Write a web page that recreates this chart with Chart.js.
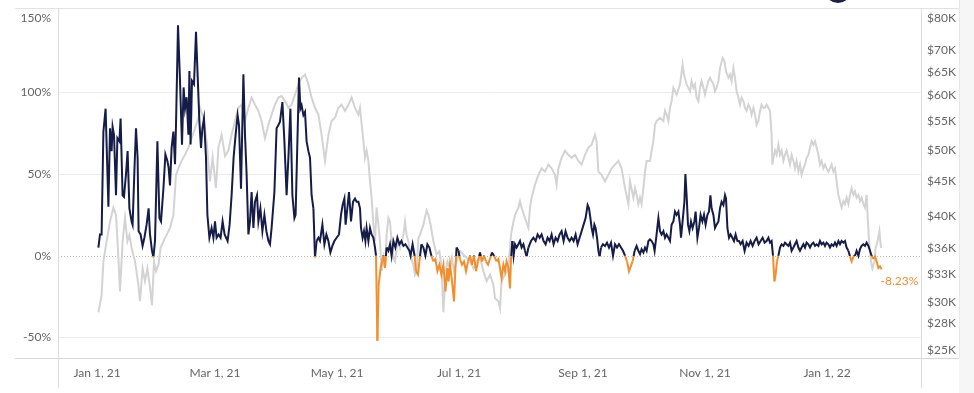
<!DOCTYPE html>
<html>
<head>
<meta charset="utf-8">
<title>Funding rate vs BTC price</title>
<script src="https://cdn.jsdelivr.net/npm/chart.js@4.4.1/dist/chart.umd.min.js"></script>
<style>
  html, body { margin: 0; padding: 0; background: #fff; }
  #wrap { width: 974px; height: 393px; }
</style>
</head>
<body>
<div id="wrap"><canvas id="chart" width="974" height="393"></canvas></div>
<script>
// Day 0 of the x axis
const startDate = '2021-01-01';

// x axis ticks
const xTickDates = ['2021-01-01', '2021-03-01', '2021-05-01', '2021-07-01', '2021-09-01', '2021-11-01', '2022-01-01'];
const xTickLabels = ['Jan 1, 21', 'Mar 1, 21', 'May 1, 21', 'Jul 1, 21', 'Sep 1, 21', 'Nov 1, 21', 'Jan 1, 22'];

// left axis (annualised rate, %) and right axis (price, $K)
const pctTicks = [150, 100, 50, 0, -50];
const priceTicks = [80, 70, 65, 60, 55, 50, 45, 40, 36, 33, 30, 28, 25];

// [days since startDate, rate %]
const fundingRate = [
  [0.7,5],[1.5,13],[2.3,13],[3.2,76],[4.3,90],[5.7,30],[6.5,78],[7.3,64],[7.8,79],[8.5,74],
  [9.5,37],[10.2,72],[11.2,70],[11.8,84],[12.8,37],[13.5,36],[14.5,50],[15.3,64],[16.2,29],[17.3,21],
  [17.8,19],[18.7,52],[19.5,78],[20.3,60],[20.8,15],[21.8,13],[22.8,6],[23.7,11],[24.8,19],[25.8,29],
  [26.5,13],[27.5,3],[28.2,-1],[29,9],[30.2,70],[31.2,23],[32,21],[33.2,41],[34.2,62],[35.2,58],
  [35.8,54],[36.5,43],[37.3,66],[38.2,76],[39,56],[39.5,80],[40.5,141],[41.5,107],[42.5,68],[43.3,103],
  [44,90],[44.8,97],[45.7,74],[46.2,113],[46.8,68],[47.5,107],[48.5,105],[49.5,137],[50.3,111],[51.2,82],
  [52,66],[52.7,78],[53.5,84],[54.5,60],[55.2,25],[56.2,11],[57.3,17],[58.2,11],[59,21],[59.8,11],
  [60.8,13],[61.8,11],[62.8,21],[63.8,13],[65.3,9],[66.3,19],[67.3,37],[68.3,60],[69.3,74],[70.3,86],
  [71,80],[72,41],[73.2,111],[74,74],[74.8,50],[75.7,13],[76.5,21],[77.3,39],[78.2,17],[79,33],
  [80,37],[80.7,21],[81.7,29],[82.7,15],[83.7,25],[84.7,15],[85.7,9],[86.5,7],[87.3,17],[88.7,39],
  [89.8,78],[90.7,80],[91.5,82],[92.7,94],[93.7,70],[94.8,37],[95.7,60],[96.7,90],[97.7,37],[98.7,23],
  [99.3,25],[100.2,70],[101,109],[101.7,90],[102.3,92],[103.2,86],[104,88],[104.8,70],[105.7,64],[106.5,60],
  [107.3,37],[108.2,29],[109,-1],[109.8,9],[110.7,11],[111.5,9],[112.7,19],[113.7,7],[114.7,13],[115.7,9],
  [116.7,2],[117.7,6],[118.7,9],[119.8,11],[121,13],[122,25],[122.8,31],[123.7,35],[124.3,19],[125,27],
  [126,39],[127,21],[128,33],[129,35],[129.8,33],[130.7,33],[131.5,29],[132,17],[132.8,11],[133.5,15],
  [134.2,9],[134.8,17],[135.7,9],[136.5,17],[137.3,13],[138.2,11],[139,5],[139.5,0],[140.2,-52],[140.8,-18],
  [141.8,-7.5],[142.5,-3.5],[143.2,0],[144,-7.5],[144.8,5],[145.7,3],[146.5,7],[147.3,0],[148.2,9],[149.2,5],
  [150.2,11],[151.2,7],[152.2,9],[153.2,6],[154.2,7],[155.2,5],[156.2,3],[156.8,0],[157.8,7],[158.8,0],
  [159.5,-9.5],[160.5,-11.6],[161.2,-3.5],[162.2,7],[163.2,5],[164.2,0],[165.2,7],[166.2,5],[167.2,0],[168.2,-3.5],
  [169.2,-2],[170.2,-9.5],[171.2,-5.5],[172.2,-11.6],[173.2,-5.5],[174.2,-21.8],[175.2,-7.5],[175.8,-15.7],[176.5,-5.5],[177.5,-15.7],
  [178.5,-28],[179.2,-7.5],[179.8,5],[180.7,3],[181.5,-2],[182.5,-5.5],[183.5,-3.5],[184.5,-9.5],[185.5,-3.5],[186.5,0],
  [187.5,-5.5],[188.5,0],[189.5,-9.5],[190.5,-3.5],[191.5,2],[192.5,-3.5],[193.5,0],[194.5,-3.5],[195.5,-5.5],[196.5,-2],
  [197.5,2],[198.5,0],[199.8,-3.5],[200.7,-2],[201.5,-7.5],[202.3,-13.7],[203.2,-5.5],[204,-9.5],[204.8,-3.5],[205.7,-7.5],
  [206.5,-20],[207,-2],[207.7,9],[208.3,0],[209,7],[209.8,5],[210.7,7],[211.5,9],[212.3,5],[213.2,7],
  [214,3],[214.8,-0.5],[215.7,5],[217,9],[218.2,11],[219.3,9],[220.3,13],[221.3,11],[222.3,13],[223.3,9],
  [224.3,7],[225.3,11],[226.3,9],[227.3,13],[228.3,7],[229.3,11],[230.3,9],[231.3,13],[232.3,15],[233.3,9],
  [234.3,15],[235.3,11],[236.3,9],[237.3,11],[238.3,9],[239.3,13],[240.3,7],[241.3,11],[242.3,15],[243.3,19],
  [244.3,23],[245.3,31],[246,29],[246.7,23],[247.3,17],[248,13],[248.7,19],[249.3,17],[250,11],[250.7,3],
  [251.3,-0.5],[252,5],[253,7],[254,6],[255,8],[256,5],[257,8],[258,0],[259,7],[260,5],
  [261,7],[262,5],[263,3],[264,0],[265,-3.5],[266,-9.5],[267.8,-3.5],[268.8,3],[269.8,6],[270.7,3],
  [271.5,1],[272.3,4],[273.2,2],[274,5],[274.8,3],[275.7,9],[276.5,10],[277.3,9],[278.2,7],[278.8,3],
  [279.8,13],[280.7,23],[281.5,15],[282.3,13],[283.2,15],[284,11],[284.8,13],[285.7,11],[286.5,9],[287.3,19],
  [288.2,21],[289,27],[289.8,25],[290.7,27],[291.5,19],[292,11],[292.8,21],[293.7,33],[294.2,50],[294.8,37],
  [295.5,19],[296.2,15],[297,21],[297.8,17],[298.7,21],[299.3,27],[300.2,11],[301,17],[301.8,25],[302.7,21],
  [303.5,25],[304.3,19],[305.2,25],[306,27],[306.7,37],[307.3,29],[308.2,25],[309,17],[309.8,19],[310.7,21],
  [311.5,29],[312.3,33],[313.2,31],[314,37],[314.5,35],[315.2,17],[316,11],[316.8,13],[317.7,11],[318.5,9],
  [319.3,13],[320.2,9],[321,9],[321.8,7],[322.8,9],[323.8,3],[324.8,8],[325.8,6],[326.8,9],[327.8,6],
  [328.8,9],[329.8,11],[330.8,7],[331.8,9],[332.8,11],[333.8,8],[334.8,9],[335.7,11],[336.5,8],[337.3,9],
  [338,0],[338.7,-15.7],[339.3,-11.6],[340,-3.5],[340.7,0],[341.5,5],[342.3,7],[343.2,6],[344,8],[344.8,7],
  [345.7,6],[346.5,8],[347.3,3],[348.2,5],[349,7],[349.8,9],[350.7,5],[351.5,3],[352.3,5],[353.2,7],
  [354,5],[354.8,8],[355.7,7],[356.5,5],[357.3,7],[358.2,8],[359,6],[359.8,7],[360.7,6],[361.5,9],
  [362.3,7],[363.2,8],[364,6],[364.8,8],[365.7,7],[366.5,5],[367.3,7],[368.2,6],[369,8],[369.8,6],
  [370.7,9],[371.5,7],[372.3,9],[373.2,8],[374,9],[374.8,5],[375.7,3],[376.5,-0.5],[377.3,-3.5],[378.2,-0.5],
  [379,0],[379.8,3],[380.7,0],[381.5,4],[382.3,6],[383.2,7],[384,6],[384.8,8],[385.7,6],[386.5,3],
  [387.3,0],[388.2,-2],[389,-0.5],[389.8,-3.5],[390.7,-7.5],[391.5,-6.5],[392.3,-8.23]
];

// [days since startDate, BTC price $K]
const btcPrice = [
  [0.7,29.0],[2.3,30.7],[3.2,34.4],[4.8,36.8],[6.5,39.3],[8.2,41.2],[9.5,40.2],[10.7,34.8],[11.5,31.1],[12.8,36.8],
  [14,39.8],[15.2,36.8],[16.2,37.6],[17.3,36.0],[19,34.4],[20.7,31.8],[21.5,30.1],[22.8,33.6],[24,32.2],[25.2,33.6],
  [26.5,31.5],[27.5,29.7],[28.5,34.4],[29.5,33.3],[30.7,34.0],[31.8,36.0],[33.2,36.8],[34.8,37.6],[36.5,38.5],[38.2,40.2],
  [39.5,46.0],[40.7,47.0],[42.3,48.2],[44,49.2],[45.7,50.4],[47.3,52.0],[49,53.8],[50.7,55.7],[51.5,57.6],[53.2,55.7],
  [54.8,51.5],[56.5,45.0],[57.8,48.7],[59.5,44.0],[60.7,50.4],[62.3,52.6],[64,49.0],[65.7,49.9],[67.3,52.6],[69,55.1],
  [70.7,57.6],[72.3,58.2],[74,55.1],[75.7,57.6],[77.3,59.6],[79,58.2],[80.7,57.0],[82.3,55.1],[84,52.0],[85.7,54.4],
  [87.3,56.3],[89,58.2],[90.7,59.6],[92.3,59.9],[94,58.9],[95.7,57.6],[97.3,58.2],[99,60.2],[100.7,62.3],[102.3,63.7],
  [104,64.4],[105.7,62.3],[107.3,59.6],[109,57.6],[110.7,56.3],[112.3,52.6],[114,48.2],[115.7,52.6],[117.3,55.1],[119,55.7],
  [120.7,57.6],[122.3,58.2],[124,57.0],[125.7,58.2],[127.3,59.6],[129,57.6],[130.7,56.3],[131.5,57.6],[133.2,51.5],[134,48.7],
  [134.8,49.9],[135.7,48.2],[136.5,45.0],[137.3,42.6],[138.2,38.9],[139,36.8],[139.8,41.2],[140.7,38.9],[141.5,36.8],[142.3,33.3],
  [143.2,34.8],[144,33.6],[144.8,37.6],[145.7,39.8],[146.5,39.3],[147.3,36.8],[148.2,34.8],[149,34.4],[149.8,36.0],[150.7,36.8],
  [151.5,36.0],[153.2,37.6],[154,39.3],[154.8,37.6],[155.7,36.8],[156.5,35.2],[158.2,34.0],[159,32.9],[159.8,33.3],[160.7,37.2],
  [161.5,37.6],[163.2,38.9],[164.8,40.8],[165.7,40.2],[166.8,38.9],[168.2,36.8],[169.8,35.2],[171.2,35.6],[172.3,33.6],[173.2,29.0],
  [174.2,32.9],[175.2,34.4],[176.5,33.6],[177.5,34.8],[178.5,33.3],[179.8,34.4],[181.5,35.6],[183.2,35.2],[184.8,34.8],[186.5,34.4],
  [188.2,33.6],[189.8,34.4],[191.5,34.8],[193.2,33.3],[194.8,32.2],[196.5,32.9],[198.2,31.8],[199,30.4],[200.7,30.1],[201.5,29.4],
  [202.3,32.2],[204,32.9],[205.7,33.6],[207,37.6],[208.2,39.3],[209,40.2],[210.7,41.2],[211.5,42.1],[212.3,41.2],[214,39.8],
  [215.7,38.5],[216.5,41.2],[217.3,42.6],[219,44.5],[220.7,46.0],[222.3,47.0],[224,46.5],[225.7,47.6],[227.3,47.0],[229,46.0],
  [229.8,44.5],[230.7,47.0],[232.3,48.7],[234,49.9],[235.7,49.2],[237.3,48.7],[239,49.2],[240.7,48.2],[242.3,47.6],[244,49.2],
  [245.7,50.4],[247.3,50.9],[249,52.6],[249.8,51.5],[250.7,46.5],[252.3,46.0],[254,45.0],[255.7,46.0],[257.3,47.0],[259,47.6],
  [260.7,48.2],[262.3,47.0],[264,44.0],[265.7,41.7],[266.5,45.0],[268.2,42.6],[269,44.0],[269.8,43.0],[270.7,41.7],[271.5,42.6],
  [272.3,41.7],[273.2,44.0],[274,46.5],[274.8,48.2],[276.5,48.2],[277.3,49.9],[278.2,51.5],[279,54.4],[279.8,55.1],[281.5,55.7],
  [283.2,55.1],[284,57.0],[284.8,56.3],[285.7,55.1],[286.5,57.6],[287.3,58.9],[288.2,61.6],[289.8,60.2],[291.5,62.3],[292.8,66.6],
  [293.5,64.4],[294.8,62.3],[296.5,60.9],[297.3,63.0],[298.2,61.6],[299,62.3],[299.8,59.6],[300.7,58.9],[301.5,61.6],[302.3,63.0],
  [303.2,61.6],[304,60.2],[304.8,61.6],[305.7,63.0],[306.5,63.7],[307.3,63.0],[308.2,62.3],[309,60.9],[309.8,61.6],[310.7,63.0],
  [311.5,65.8],[312.8,68.1],[313.7,67.4],[314.5,65.1],[315.7,63.7],[316.5,64.4],[317.3,63.0],[318.2,65.8],[319,63.7],[319.8,60.9],
  [320.7,59.6],[321.5,58.2],[322.3,59.6],[323.2,58.9],[324,57.6],[324.8,57.0],[325.7,58.2],[326.5,57.6],[327.3,56.3],[328.2,57.6],
  [329,56.3],[329.8,54.4],[330.7,55.1],[331.5,57.0],[332.3,58.2],[333.2,57.6],[334,57.6],[334.8,58.2],[335.7,57.6],[336.5,57.0],
  [337.3,52.6],[337.7,47.6],[338.2,48.7],[339,49.9],[339.8,49.2],[340.7,50.9],[341.5,49.2],[342.3,49.9],[343.2,48.2],[344,49.2],
  [344.8,49.9],[345.7,48.7],[346.5,47.6],[347.3,49.2],[348.2,48.2],[349,47.0],[349.8,48.2],[350.7,46.5],[351.5,47.6],[352.3,46.0],
  [353.2,47.0],[354,47.6],[354.8,48.7],[355.7,49.2],[356.5,50.4],[357.3,51.5],[358.2,50.9],[359,51.5],[359.8,50.4],[360.7,49.2],
  [361.5,47.6],[362.3,48.2],[363.2,47.0],[364,47.6],[364.8,47.0],[365.7,46.5],[366.5,47.0],[367.3,47.6],[368.2,46.5],[369,47.0],
  [369.8,45.0],[370.7,43.0],[371.5,42.1],[372.3,41.2],[373.2,42.1],[374,41.7],[374.8,42.6],[375.7,41.7],[376.5,43.0],[377.3,44.0],
  [378.2,43.0],[379,43.5],[379.8,42.6],[380.7,43.0],[381.5,42.1],[382.3,42.6],[383.2,41.7],[384,41.2],[384.8,43.0],[385.3,40.2],
  [386,36.8],[387,34.4],[387.7,33.6],[388.7,34.4],[389.3,36.0],[390.3,36.8],[391.2,38.1],[392,36.0]
];

const NAVY = '#151c47';
const ORANGE = '#f28e2b';
const GRAY = '#d3d3d3';
const TEXT = '#666666';
const FONT = '12px Lato, "Open Sans", sans-serif';

const dayOf = s => (Date.parse(s) - Date.parse(startDate)) / 864e5;

// navy above zero, orange below; segments that cross zero switch colour at the zero line
function signColor(ctx) {
  const zeroY = ctx.chart.scales.yPct.getPixelForValue(0);
  const y0 = ctx.p0.y, y1 = ctx.p1.y;
  const neg0 = y0 > zeroY, neg1 = y1 > zeroY;
  if (neg0 === neg1) return neg0 ? ORANGE : NAVY;
  const t = (zeroY - y0) / (y1 - y0);
  const g = ctx.chart.ctx.createLinearGradient(0, y0, 0, y1);
  g.addColorStop(0, neg0 ? ORANGE : NAVY);
  g.addColorStop(t, neg0 ? ORANGE : NAVY);
  g.addColorStop(t, neg1 ? ORANGE : NAVY);
  g.addColorStop(1, neg1 ? ORANGE : NAVY);
  return g;
}

function hLine(c, y, x1, x2, color, dash) {
  c.save();
  c.strokeStyle = color;
  c.lineWidth = 1;
  c.setLineDash(dash || []);
  c.beginPath();
  c.moveTo(x1, Math.round(y) + 0.5);
  c.lineTo(x2, Math.round(y) + 0.5);
  c.stroke();
  c.restore();
}

function vLine(c, x, y1, y2, color) {
  c.save();
  c.strokeStyle = color;
  c.lineWidth = 1;
  c.beginPath();
  c.moveTo(Math.round(x) + 0.5, y1);
  c.lineTo(Math.round(x) + 0.5, y2);
  c.stroke();
  c.restore();
}

const framePlugin = {
  id: 'frame',
  beforeDatasetsDraw(chart) {
    const c = chart.ctx;
    const a = chart.chartArea;
    const yPct = chart.scales.yPct;

    // light side panel on the far right
    c.fillStyle = '#f6f6f6';
    c.fillRect(959, 0, chart.width - 959, chart.height);

    // gridlines
    pctTicks.forEach(v => {
      if (v === 0 || v === 150) return;
      hLine(c, yPct.getPixelForValue(v), a.left, a.right, '#ececec');
    });
    hLine(c, yPct.getPixelForValue(0), a.left, a.right, '#b8b8b8', [1, 2]);

    // pane borders
    hLine(c, a.top, 15, 959, '#e2e2e2');
    hLine(c, a.bottom, 15, 959, '#d6d6d6');
    vLine(c, a.left, a.top, 388, '#dcdcdc');
    vLine(c, a.right, a.top, 388, '#dcdcdc');
    vLine(c, 959, 0, a.bottom, '#e8e8e8');

    // logo edge peeking in at the top
    c.save();
    c.fillStyle = '#1b2244';
    c.beginPath();
    c.arc(838, -10.5, 13.5, 0, Math.PI * 2);
    c.fill();
    c.restore();
  },
  afterDatasetsDraw(chart) {
    const c = chart.ctx;
    const a = chart.chartArea;
    const clampY = y => Math.min(Math.max(y, a.top + 10), a.bottom - 8);
    c.save();
    c.font = FONT;
    c.fillStyle = TEXT;
    c.textBaseline = 'middle';

    c.textAlign = 'right';
    pctTicks.forEach(v => {
      c.fillText(v + '%', a.left - 7, clampY(chart.scales.yPct.getPixelForValue(v)));
    });

    c.textAlign = 'left';
    priceTicks.forEach(v => {
      c.fillText('$' + v + 'K', a.right + 6, clampY(chart.scales.yPrice.getPixelForValue(v)));
    });

    c.textAlign = 'center';
    xTickDates.forEach((d, i) => {
      c.fillText(xTickLabels[i], chart.scales.x.getPixelForValue(dayOf(d)), a.bottom + 15);
    });

    // label on the latest rate
    const meta = chart.getDatasetMeta(0);
    const last = meta.data[meta.data.length - 1];
    const lastVal = fundingRate[fundingRate.length - 1][1];
    c.fillStyle = ORANGE;
    c.textAlign = 'left';
    c.fillText(lastVal.toFixed(2) + '%', last.x - 1, last.y + 12);
    c.restore();
  }
};

new Chart(document.getElementById('chart'), {
  type: 'line',
  data: {
    datasets: [
      {
        label: 'Rate',
        data: fundingRate.map(([d, v]) => ({ x: d, y: v })),
        yAxisID: 'yPct',
        borderColor: NAVY,
        borderWidth: 2,
        pointRadius: 0,
        tension: 0,
        segment: { borderColor: signColor },
        order: 0
      },
      {
        label: 'BTC price',
        data: btcPrice.map(([d, v]) => ({ x: d, y: v })),
        yAxisID: 'yPrice',
        borderColor: GRAY,
        borderWidth: 2,
        pointRadius: 0,
        tension: 0,
        order: 1
      }
    ]
  },
  options: {
    responsive: false,
    animation: false,
    events: [],
    devicePixelRatio: 1,
    layout: { padding: { left: 58, top: 8, right: 53, bottom: 35 } },
    plugins: {
      legend: { display: false },
      tooltip: { enabled: false }
    },
    scales: {
      x: { type: 'linear', display: false, min: -19.5, max: 412 },
      yPct: { type: 'linear', display: false, min: -62.6, max: 151.6 },
      yPrice: { type: 'logarithmic', display: false, min: 24.88, max: 80.5 }
    }
  },
  plugins: [framePlugin]
});
</script>
</body>
</html>
